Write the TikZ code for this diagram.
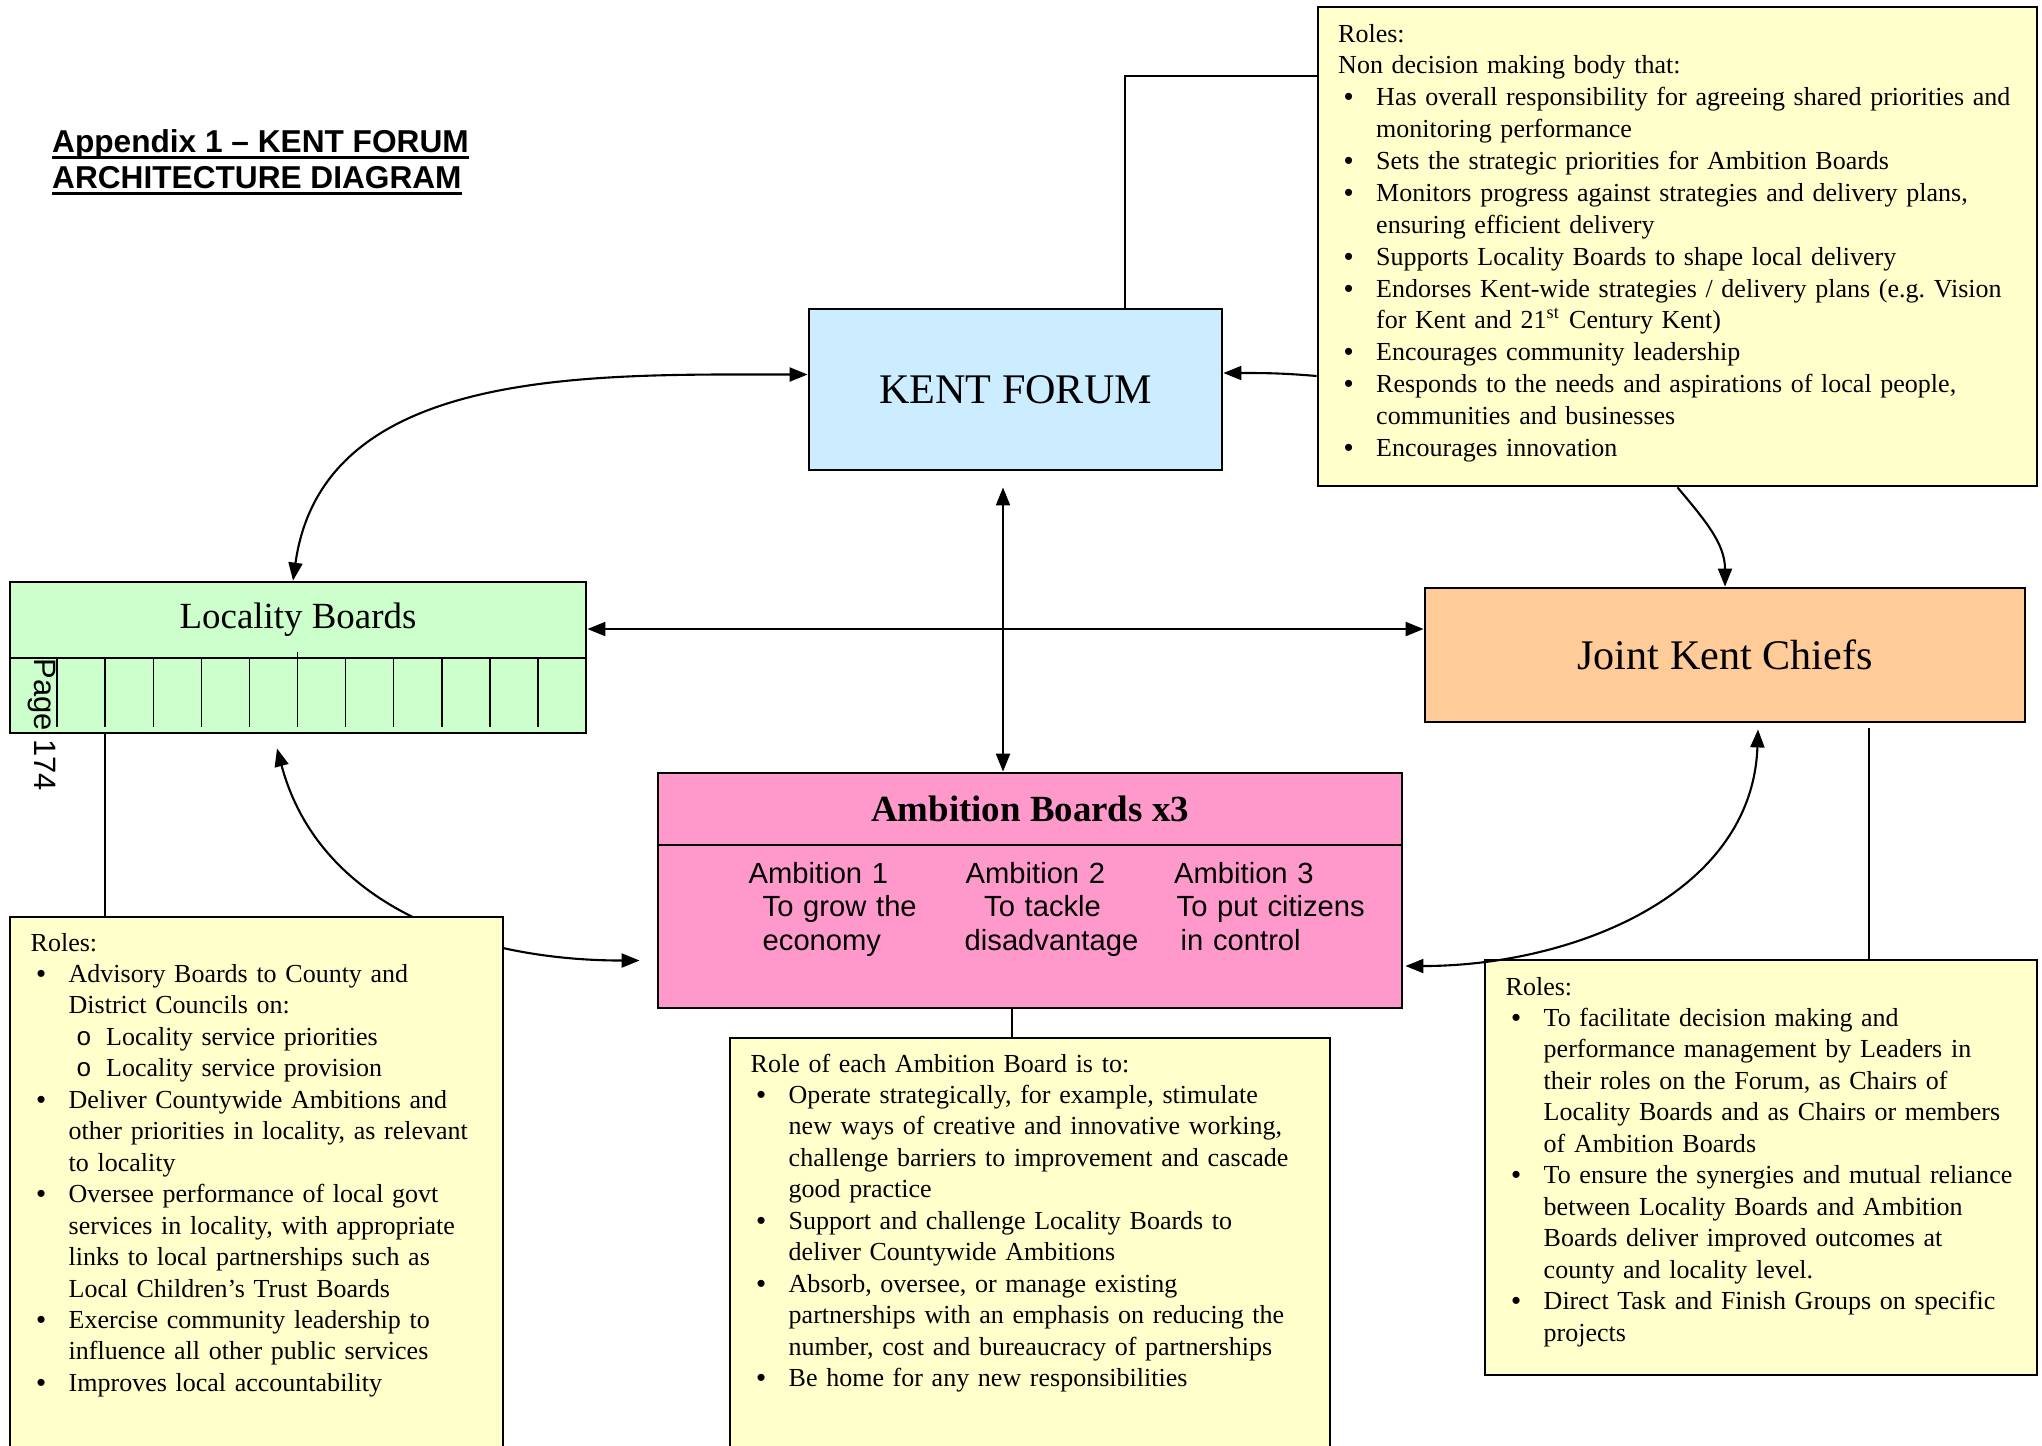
\documentclass[tikz,border=0pt]{standalone}
\usepackage{fontspec}
\setmainfont{Liberation Serif}
\setsansfont{Liberation Sans}
\newfontfamily\monofont{Liberation Mono}
\usetikzlibrary{arrows.meta}
\frenchspacing
\definecolor{forumblue}{HTML}{CCECFF}
\definecolor{localgreen}{HTML}{CCFFCC}
\definecolor{chiefsorange}{HTML}{FFCC99}
\definecolor{ambpink}{HTML}{FF99CC}
\definecolor{rolesyellow}{HTML}{FFFFCC}
\newcommand\bul{\par\noindent\hangindent=0.38cm\hangafter=1\makebox[0.38cm][l]{\hspace{0.06cm}{\sffamily\textbullet}}}
\newcommand\subbul{\par\noindent\hangindent=0.755cm\hangafter=1\makebox[0.755cm][l]{\hspace{0.455cm}{\monofont o}}}
\tikzset{
  box/.style={draw, line width=0.8pt, inner sep=0pt},
  roles/.style={box, fill=rolesyellow},
  rolestext/.style={anchor=base west, inner sep=0pt, text width=7cm, align=left, font=\fontsize{7.4}{8.95}\selectfont},
  amb/.style={anchor=base west, inner sep=0pt, text width=2.2cm, align=left, font=\sffamily\fontsize{8.3}{9.64}\selectfont},
  link/.style={line width=0.6pt},
  arr/.style={link, -{Triangle[length=1.8mm,width=1.4mm]}},
  arrs/.style={link, {Triangle[length=1.8mm,width=1.4mm]}-{Triangle[length=1.8mm,width=1.4mm]}}
}
\begin{document}
\begin{tikzpicture}
\useasboundingbox (0,0) rectangle (20.42,-14.45);
\node[anchor=base west, inner sep=0pt, font=\sffamily\bfseries\fontsize{9}{10}\selectfont] (title1) at (0.515,-1.52) {Appendix 1 – KENT FORUM};
\node[anchor=base west, inner sep=0pt, font=\sffamily\bfseries\fontsize{9}{10}\selectfont] (title2) at (0.515,-1.88) {ARCHITECTURE DIAGRAM};
\draw[line width=0.95pt] ([yshift=-1.6pt]title1.base west) -- ([yshift=-1.6pt]title1.base east);
\draw[line width=0.95pt] ([yshift=-1.6pt]title2.base west) -- ([yshift=-1.6pt]title2.base east);

\node[box, fill=forumblue, minimum width=4.13cm, minimum height=1.61cm, font=\fontsize{12}{14}\selectfont] (forum) at (10.155,-3.895) {KENT FORUM};
\node[roles, minimum width=7.19cm, minimum height=4.79cm] (rolesforum) at (16.775,-2.465) {};
\node[rolestext, font=\fontsize{7.4}{9.07}\selectfont] (rolesforumtext) at (13.375,-0.42) {Roles:\par
Non decision making body that:
\bul Has overall responsibility for agreeing shared priorities and\newline monitoring performance
\bul Sets the strategic priorities for Ambition Boards
\bul Monitors progress against strategies and delivery plans,\newline ensuring efficient delivery
\bul Supports Locality Boards to shape local delivery
\bul Endorses Kent-wide strategies / delivery plans (e.g. Vision\newline for Kent and 21\textsuperscript{st} Century Kent)
\bul Encourages community leadership
\bul Responds to the needs and aspirations of local people,\newline communities and businesses
\bul Encourages innovation\par};

\node[box, fill=localgreen, minimum width=5.76cm, minimum height=0.76cm, font=\fontsize{10.5}{12}\selectfont] (locality) at (2.98,-6.20) {Locality Boards};
\node[box, fill=localgreen, minimum width=5.76cm, minimum height=0.75cm] (tabs) at (2.98,-6.955) {};
\node[anchor=base west, rotate=-90, inner sep=0pt, font=\sffamily\fontsize{8.8}{10}\selectfont] (page) at (0.34,-6.58) {Page 174};
\foreach \i in {0,...,10} {
    \ifnum\i=5
        \draw (0.57+0.481*\i,-6.52) -- (0.57+0.481*\i,-7.27);
    \else
        \draw (0.57+0.481*\i,-6.58) -- (0.57+0.481*\i,-7.27);
    \fi
}

\node[box, fill=chiefsorange, minimum width=6cm, minimum height=1.34cm, font=\fontsize{12}{14}\selectfont] (chiefs) at (17.25,-6.55) {Joint Kent Chiefs};

\node[box, fill=ambpink, minimum width=7.44cm, minimum height=0.72cm, font=\bfseries\fontsize{10.5}{12}\selectfont] (ambition) at (10.30,-8.09) {Ambition Boards x3};
\node[box, fill=ambpink, minimum width=7.44cm, minimum height=1.63cm] (ambbody) at (10.30,-9.265) {};
\node[amb] (amb1) at (7.48,-8.83) {Ambition 1\newline\hspace*{0.14cm}To grow the\newline\hspace*{0.14cm}economy};
\node[amb] (amb2) at (9.64,-8.83) {\hspace*{0.01cm}Ambition 2\newline\hspace*{0.195cm}To tackle\newline disadvantage};
\node[amb] (amb3) at (11.735,-8.83) {Ambition 3\newline\hspace*{0.025cm}To put citizens\newline\hspace*{0.065cm}in control};

\draw[arrs] ([xshift=-2.1mm,yshift=-1.4mm]tabs.south) to[out=-75,in=180] ([xshift=-1.7mm,yshift=-3.4mm]ambbody.west);

\node[roles, minimum width=4.93cm, minimum height=5.48cm] (rolesloc) at (2.565,-11.91) {};
\node[rolestext] (roleslocText) at (0.30,-9.51) {Roles:
\bul Advisory Boards to County and\newline District Councils on:
\subbul Locality service priorities
\subbul Locality service provision
\bul Deliver Countywide Ambitions and\newline other priorities in locality, as relevant\newline to locality
\bul Oversee performance of local govt\newline services in locality, with appropriate\newline links to local partnerships such as\newline Local Children’s Trust Boards
\bul Exercise community leadership to\newline influence all other public services
\bul Improves local accountability\par};

\node[roles, minimum width=6cm, minimum height=4.27cm] (rolesamb) at (10.30,-12.515) {};
\node[rolestext] (rolesambtext) at (7.50,-10.72) {Role of each Ambition Board is to:
\bul Operate strategically, for example, stimulate\newline new ways of creative and innovative working,\newline challenge barriers to improvement and cascade\newline good practice
\bul Support and challenge Locality Boards to\newline deliver Countywide Ambitions
\bul Absorb, oversee, or manage existing\newline partnerships with an emphasis on reducing the\newline number, cost and bureaucracy of partnerships
\bul Be home for any new responsibilities\par};

\node[roles, minimum width=5.52cm, minimum height=4.15cm] (roleschiefs) at (17.61,-11.675) {};
\node[rolestext] (roleschiefstext) at (15.05,-9.95) {Roles:
\bul To facilitate decision making and\newline performance management by Leaders in\newline their roles on the Forum, as Chairs of\newline Locality Boards and as Chairs or members\newline of Ambition Boards
\bul To ensure the synergies and mutual reliance\newline between Locality Boards and Ambition\newline Boards deliver improved outcomes at\newline county and locality level.
\bul Direct Task and Finish Groups on specific\newline projects\par};

\draw[link] ([xshift=10.95mm]forum.north) |- ([yshift=-7mm]rolesforum.north west);
\draw[arr] ([yshift=-12.95mm]rolesforum.west) to[out=175,in=0] ([yshift=1.65mm]forum.east);
\draw[arr] (rolesforum.south) to[out=-50,in=90] (chiefs.north);
\draw[arrs] ([xshift=-1.25mm,yshift=-1.6mm]forum.south) -- ([xshift=-1.25mm]forum.south |- ambition.north);
\draw[arrs] ([yshift=1.5mm]forum.west) to[out=180,in=82] ([xshift=-0.5mm]locality.north);
\draw[arrs] ([yshift=-0.9mm]locality.east) -- ([yshift=-0.9mm]locality.east -| chiefs.west);
\draw[arrs] ([xshift=3.3mm,yshift=-0.6mm]chiefs.south) to[out=-92,in=0] ([xshift=0.2mm,yshift=-3.95mm]ambbody.east);
\draw[link] ([xshift=14.4mm,yshift=-0.5mm]chiefs.south) -- ([xshift=14.4mm]chiefs.south |- roleschiefs.north);
\draw[link] ([xshift=-1.8mm]ambbody.south) -- ([xshift=-1.8mm]ambbody.south |- rolesamb.north);
\draw[link] ([xshift=9.6mm]tabs.south west) -- ([xshift=9.6mm]tabs.south west |- rolesloc.north);
\end{tikzpicture}
\end{document}
